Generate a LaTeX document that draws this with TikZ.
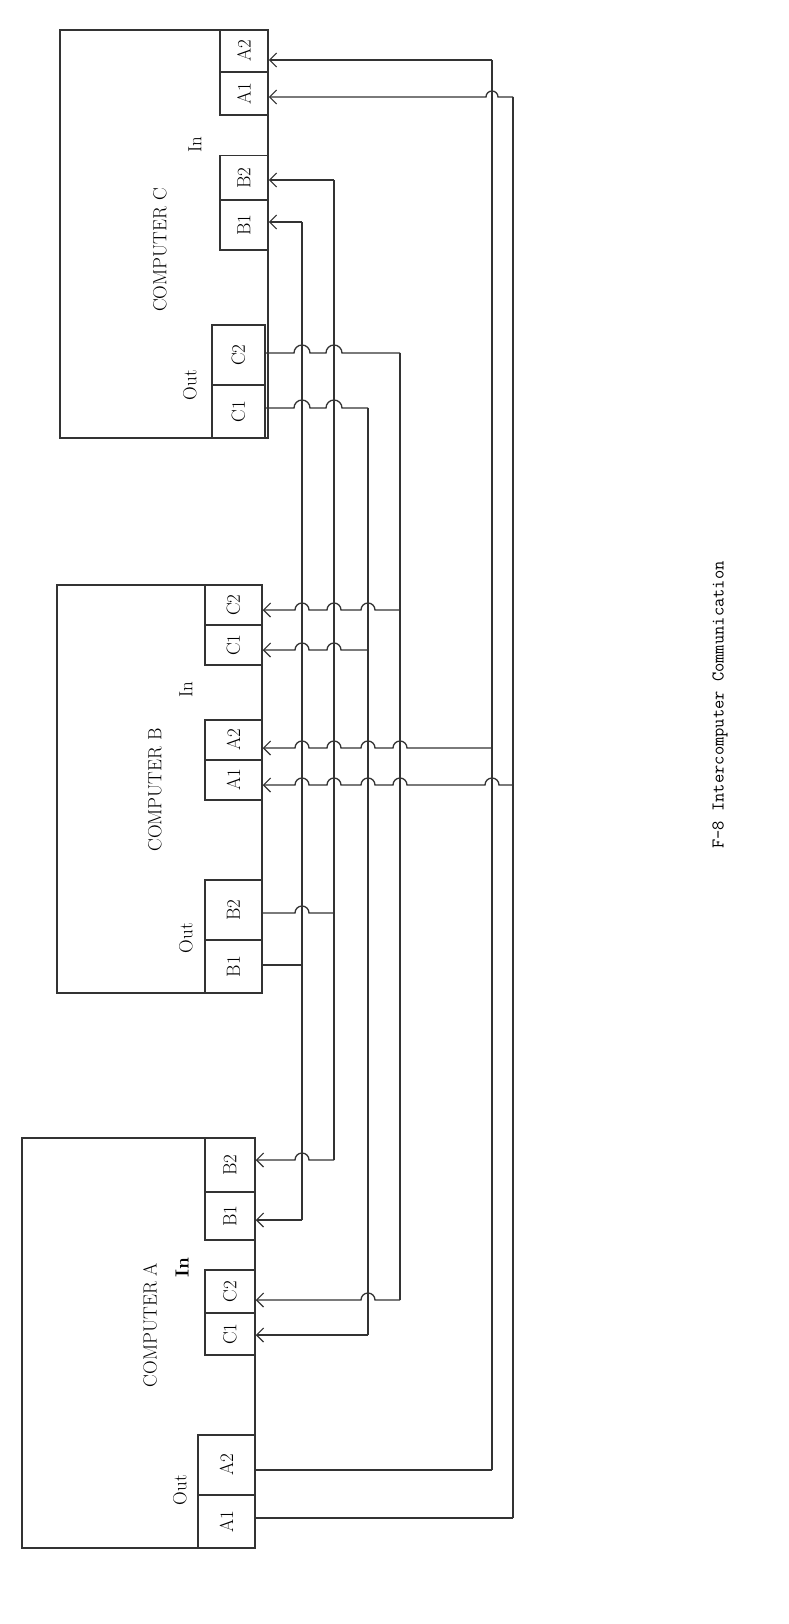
\documentclass[tikz,border=0pt]{standalone}
\usetikzlibrary{arrows.meta}
\begin{document}
\begin{tikzpicture}[x=1pt,y=1pt,
  w/.style={line width=1.3pt,color=black!80},
  ar/.style={w,-{Straight Barb[length=7pt,width=14pt,line width=1.2pt]}},
  box/.style={draw=black!80,line width=1.5pt,inner sep=0pt},
  lbl/.style={font=\fontsize{19}{19}\selectfont,inner sep=0pt}]
\useasboundingbox (0,0) rectangle (789,-1624);
% main boxes
\node[box,minimum width=208,minimum height=408] (CC) at (164,-234) {};
\node[box,minimum width=205,minimum height=408] (CB) at (159.5,-789) {};
\node[box,minimum width=233,minimum height=410] (CA) at (138.5,-1343) {};
% ports
\foreach \pn/\pl/\px/\py/\pw/\ph in {
  CA2/A2/244/-51/48/42, CA1/A1/244/-93.5/48/43,
  CB2/B2/244/-178/48/45, CB1/B1/244/-225/48/50,
  CC2/C2/238.5/-355/53/60, CC1/C1/238.5/-411.5/53/53,
  BC2/C2/233.5/-605/57/40, BC1/C1/233.5/-645/57/40,
  BA2/A2/233.5/-740/57/40, BA1/A1/233.5/-780/57/40,
  BB2/B2/233.5/-910/57/60, BB1/B1/233.5/-966.5/57/53,
  AB2/B2/230/-1165/50/54, AB1/B1/230/-1216/50/48,
  AC2/C2/230/-1291.5/50/43, AC1/C1/230/-1334/50/42,
  AA2/A2/226.5/-1465/57/60, AA1/A1/226.5/-1521.5/57/53}
  \node[box,minimum width=\pw,minimum height=\ph,lbl] (\pn) at (\px,\py) {\rotatebox{90}{\pl}};
% texts
\node[lbl,rotate=90] (tC) at (160,-250) {COMPUTER C};
\node[lbl,rotate=90] (tB) at (155,-790) {COMPUTER B};
\node[lbl,rotate=90] (tA) at (150,-1325) {COMPUTER A};
\node[lbl,rotate=90] (iC) at (195,-145) {In};
\node[lbl,rotate=90] (oC) at (190,-385) {Out};
\node[lbl,rotate=90] (iB) at (186,-690) {In};
\node[lbl,rotate=90] (oB) at (186,-938) {Out};
\node[lbl,rotate=90,font=\fontsize{19}{19}\selectfont\bfseries] (iA) at (182,-1268) {In};
\node[lbl,rotate=90] (oA) at (180,-1490) {Out};
\node[rotate=90,inner sep=0pt,font=\ttfamily\fontsize{18}{18}\selectfont] (cap) at (720,-705) {F-8 Intercomputer Communication};
% trunks
\draw[w] (302,-222) -- (302,-1220);
\draw[w] (334,-180) -- (334,-1160);
\draw[w] (368,-408) -- (368,-1335);
\draw[w] (400,-353) -- (400,-1300);
\draw[w] (492,-60) -- (492,-1470);
\draw[w] (513,-97) -- (513,-1518);
% computer C inputs
\draw[ar] (492,-60) -- (CA2.east |- 0,-60);
\draw[ar] (513,-97) foreach \h in {492}{ -- (\h+6,-97) arc[start angle=0,end angle=180,radius=6]} -- (CA1.east |- 0,-97);
\draw[ar] (334,-180) -- (CB2.east |- 0,-180);
\draw[ar] (302,-222) -- (CB1.east |- 0,-222);
% computer C outputs
\draw[w] (CC2.east |- 0,-353) foreach \h in {302,334}{ -- (\h-8,-353) arc[start angle=180,end angle=0,radius=8]} -- (400,-353);
\draw[w] (CC1.east |- 0,-408) foreach \h in {302,334}{ -- (\h-8,-408) arc[start angle=180,end angle=0,radius=8]} -- (368,-408);
% computer B inputs
\draw[ar] (400,-610) foreach \h in {368,334,302}{ -- (\h+7,-610) arc[start angle=0,end angle=180,radius=7]} -- (BC2.east |- 0,-610);
\draw[ar] (368,-650) foreach \h in {334,302}{ -- (\h+7,-650) arc[start angle=0,end angle=180,radius=7]} -- (BC1.east |- 0,-650);
\draw[ar] (492,-748) foreach \h in {400,368,334,302}{ -- (\h+7,-748) arc[start angle=0,end angle=180,radius=7]} -- (BA2.east |- 0,-748);
\draw[ar] (513,-785) foreach \h in {492,400,368,334,302}{ -- (\h+7,-785) arc[start angle=0,end angle=180,radius=7]} -- (BA1.east |- 0,-785);
% computer B outputs
\draw[w] (BB2.east |- 0,-913) foreach \h in {302}{ -- (\h-7,-913) arc[start angle=180,end angle=0,radius=7]} -- (334,-913);
\draw[w] (BB1.east |- 0,-965) -- (302,-965);
% computer A inputs
\draw[ar] (334,-1160) foreach \h in {302}{ -- (\h+7,-1160) arc[start angle=0,end angle=180,radius=7]} -- (AB2.east |- 0,-1160);
\draw[ar] (302,-1220) -- (AB1.east |- 0,-1220);
\draw[ar] (400,-1300) foreach \h in {368}{ -- (\h+7,-1300) arc[start angle=0,end angle=180,radius=7]} -- (AC2.east |- 0,-1300);
\draw[ar] (368,-1335) -- (AC1.east |- 0,-1335);
% computer A outputs
\draw[w] (AA2.east |- 0,-1470) -- (492,-1470);
\draw[w] (AA1.east |- 0,-1518) -- (513,-1518);
\end{tikzpicture}
\end{document}
